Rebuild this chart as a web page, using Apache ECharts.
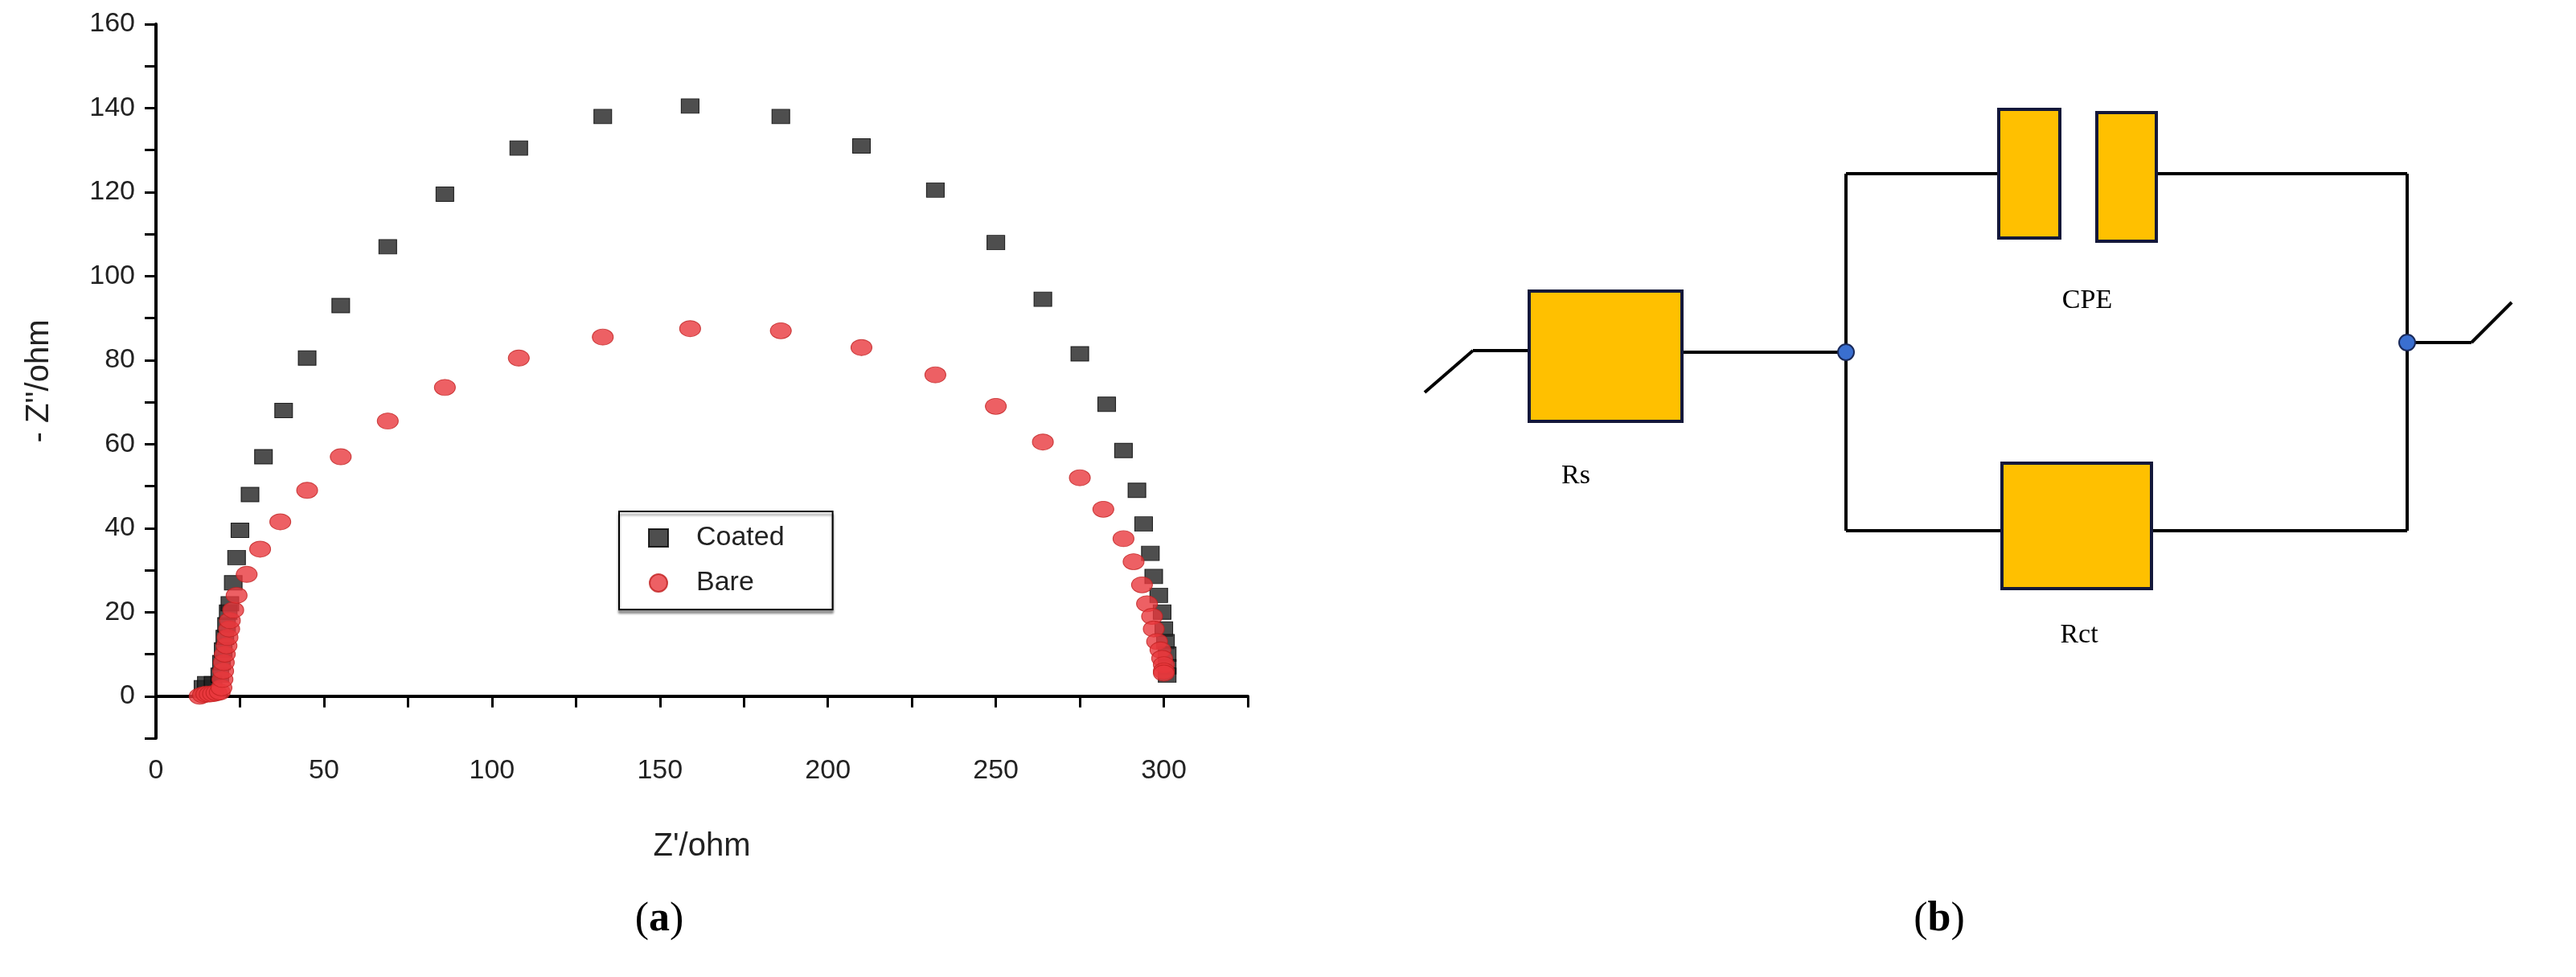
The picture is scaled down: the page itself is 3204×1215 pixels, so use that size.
<!DOCTYPE html>
<html><head><meta charset="utf-8">
<script src="https://cdn.jsdelivr.net/npm/echarts@6/dist/echarts.min.js"></script>
<style>html,body{margin:0;padding:0;background:#fff}#c{width:3204px;height:1215px}</style>
</head><body><div id="c"></div>
<script>
const seriesNames = ['Coated', 'Bare'];
const coated = [[14,2],[15,3],[17,3],[19,5],[19.5,8],[20,11],[20.5,14],[21,17],[21.5,20],[22,22],[23,27],[24,33],[25,39.5],[28,48],[32,57],[38,68],[45,80.5],[55,93],[69,107],[86,119.5],[108,130.5],[133,138],[159,140.5],[186,138],[210,131],[232,120.5],[250,108],[264,94.5],[275,81.5],[283,69.5],[288,58.5],[292,49],[294,41],[296,34],[297,28.5],[298.5,24],[299.5,20],[300,16],[300.5,13],[301,10],[301,7],[301,5]];
const bare = [[13,0],[14,0.3],[15,0.5],[16,0.5],[17,0.6],[18,0.8],[19,1],[19.5,2],[19.8,4],[20,6],[20.2,8],[20.5,10],[21,12],[21.3,14],[21.8,16],[22,18],[23,20.5],[24,24],[27,29],[31,35],[37,41.5],[45,49],[55,57],[69,65.5],[86,73.5],[108,80.5],[133,85.5],[159,87.5],[186,87],[210,83],[232,76.5],[250,69],[264,60.5],[275,52],[282,44.5],[288,37.5],[291,32],[293.5,26.5],[295,22],[296.5,19],[297,16],[298,13],[299,11],[299.5,9],[300,7.5],[300,6],[300,5.5]];
const xLabels = [0,50,100,150,200,250,300];
const yLabels = [0,20,40,60,80,100,120,140,160];

const chart = echarts.init(document.getElementById('c'));
const fill = '#FFC000', edge = '#14183a', wire = '#000';
const ln = (x1,y1,x2,y2)=>({type:'line',shape:{x1,y1,x2,y2},style:{stroke:wire,lineWidth:4}});
const box = (x,y,w,h)=>({type:'rect',shape:{x,y,width:w,height:h},style:{fill,stroke:edge,lineWidth:4}});
const node = (cx,cy)=>({type:'circle',shape:{cx,cy,r:10},style:{fill:'#3a6fd0',stroke:'#1a2a5a',lineWidth:2}});
const txt = (x,y,t)=>({type:'text',x,y,style:{text:t,fill:'#000',font:'34px "Liberation Serif"',textAlign:'center',textVerticalAlign:'middle'}});
chart.setOption({
  animation:false,
  grid:{left:194,top:30,width:1358,height:888},
  xAxis:{type:'value',min:0,max:325,interval:25,
    name:"Z'/ohm",nameLocation:'middle',nameGap:115,
    nameTextStyle:{fontFamily:'Liberation Sans',fontSize:40,color:'#222'},
    axisLine:{lineStyle:{color:'#000',width:4}},
    axisTick:{inside:false,length:14,lineStyle:{color:'#000',width:3}},
    axisLabel:{fontFamily:'Liberation Sans',fontSize:34,color:'#222',margin:24,
      formatter:v=>xLabels.includes(v)?String(v):''},
    splitLine:{show:false}},
  yAxis:{type:'value',min:-10,max:160,interval:10,
    name:"- Z''/ohm",nameLocation:'middle',nameGap:125,
    nameTextStyle:{fontFamily:'Liberation Sans',fontSize:40,color:'#222'},
    axisLine:{show:true,lineStyle:{color:'#000',width:4}},
    axisTick:{show:true,length:14,lineStyle:{color:'#000',width:3}},
    axisLabel:{fontFamily:'Liberation Sans',fontSize:34,color:'#222',margin:26,
      formatter:v=>yLabels.includes(v)?String(v):''},
    splitLine:{show:false}},
  legend:{orient:'vertical',left:770,top:636,padding:[16,60,16,36],itemGap:22,
    borderColor:'#000',borderWidth:2,backgroundColor:'#fff',
    shadowColor:'rgba(0,0,0,0.4)',shadowOffsetY:4,shadowBlur:3,
    itemWidth:24,itemHeight:22,
    textStyle:{fontFamily:'Liberation Sans',fontSize:34,color:'#222',padding:[0,0,0,30]},
    data:seriesNames},
  series:[
    {name:seriesNames[0],type:'scatter',data:coated,symbol:'rect',symbolSize:[22,18],
      itemStyle:{color:'#222',borderColor:'#000',borderWidth:1}},
    {name:seriesNames[1],type:'scatter',data:bare,symbol:'circle',symbolSize:[26,20],
      itemStyle:{color:'#e8383d',borderColor:'#c02020',borderWidth:1}}
  ],
  graphic:[
    ln(1772,488,1832,436), ln(1832,436,1902,436),
    ln(2092,438,2296,438),
    ln(2296,216,2296,660), ln(2994,216,2994,660),
    ln(2296,216,2486,216), ln(2682,216,2994,216),
    ln(2296,660,2490,660), ln(2676,660,2994,660),
    ln(2994,426,3074,426), ln(3074,426,3124,376),
    box(1902,362,190,162),
    box(2486,136,76,160), box(2608,140,74,160),
    box(2490,576,186,156),
    node(2296,438), node(2994,426),
    txt(1960,592,'Rs'), txt(2596,374,'CPE'), txt(2586,790,'Rct'),
    {type:'text',x:820,y:1144,style:{rich:{p:{font:'52px "Liberation Serif"'},b:{font:'bold 52px "Liberation Serif"'}},text:'{p|(}{b|a}{p|)}',textAlign:'center',textVerticalAlign:'middle'}},
    {type:'text',x:2412,y:1144,style:{rich:{p:{font:'52px "Liberation Serif"'},b:{font:'bold 52px "Liberation Serif"'}},text:'{p|(}{b|b}{p|)}',textAlign:'center',textVerticalAlign:'middle'}}
  ]
});
</script></body></html>
